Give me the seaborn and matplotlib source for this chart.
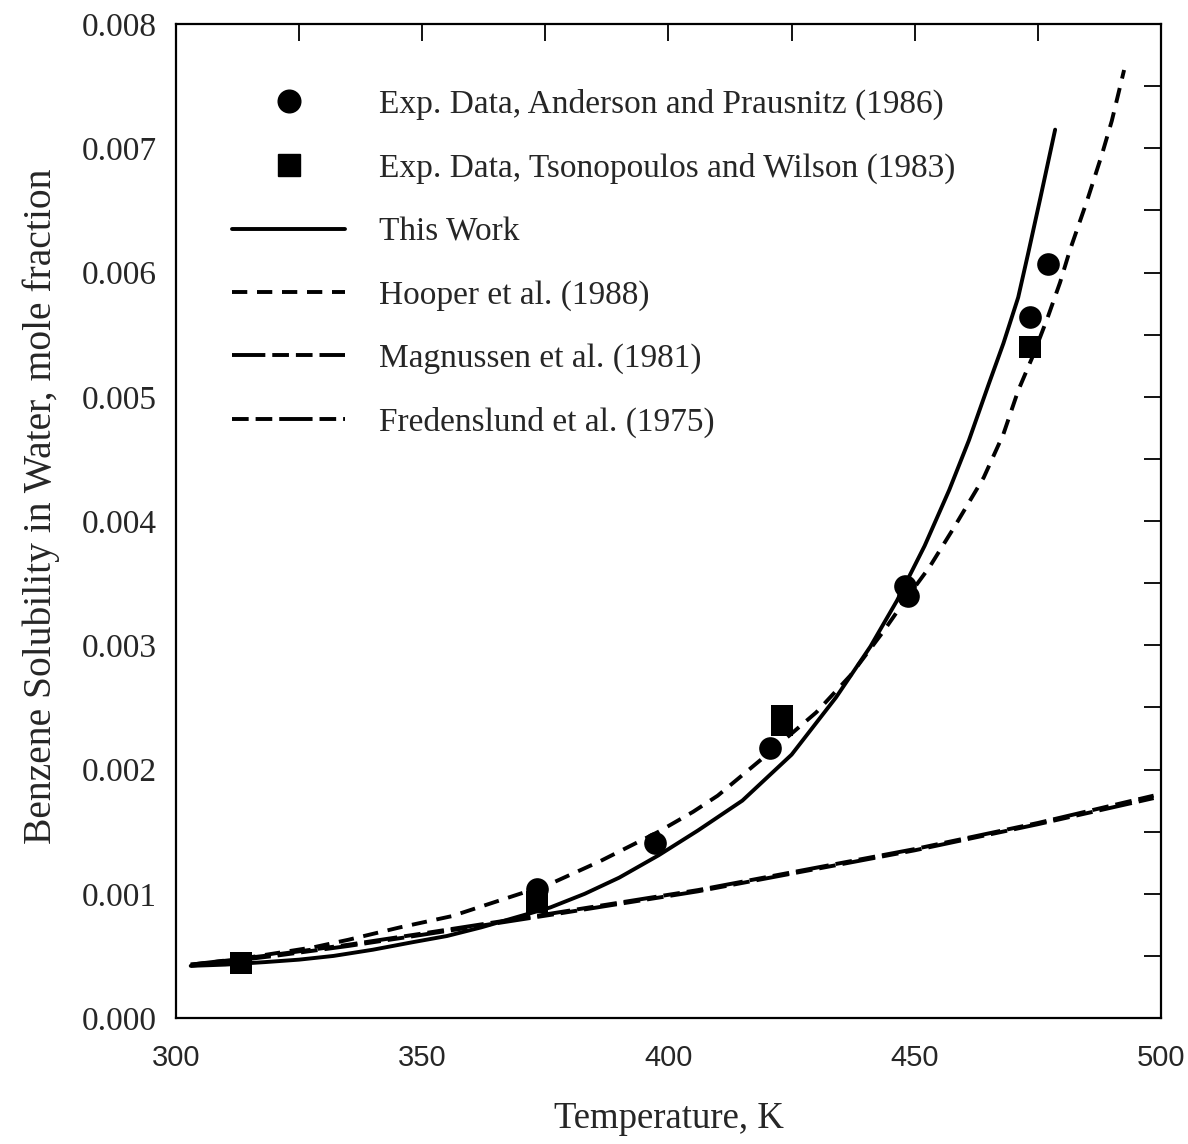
import numpy as np
import pandas as pd
import matplotlib
matplotlib.use("Agg")
import matplotlib.pyplot as plt
from matplotlib.lines import Line2D
from matplotlib.ticker import MultipleLocator, FormatStrFormatter
import seaborn as sns

# ---------------- data ----------------
anderson_T = [373.3, 397.3, 420.6, 448.0, 448.6, 473.4, 477.1]
anderson_x = [0.00104, 0.00141, 0.00217, 0.00348, 0.00340, 0.00564, 0.00607]

tsono_T = [313.2, 373.3, 423.0, 423.0, 473.4]
tsono_x = [0.00044, 0.00093, 0.00243, 0.00236, 0.00540]

this_T = [303, 310, 318, 325, 332, 340, 348, 355, 362, 369, 376, 383, 390,
          398, 406, 415, 425, 434, 441, 446.4, 452, 457, 461, 465, 468, 471,
          473, 475.5, 478.5]
this_x = [0.00042, 0.00043, 0.00045, 0.00047, 0.00050, 0.00055, 0.00061,
          0.00066, 0.00073, 0.00081, 0.00089, 0.00100, 0.00113, 0.00131,
          0.00151, 0.00175, 0.00212, 0.00258, 0.00299, 0.00336, 0.00380,
          0.00425, 0.00465, 0.00510, 0.00543, 0.00580, 0.00615, 0.00660, 0.00715]

hooper_T = [303, 312, 320, 328, 335, 345.5, 356, 366, 376, 386, 398, 405, 410,
            420, 430, 437, 443.6, 448, 453, 458, 464, 468, 471, 474, 477,
            479.5, 481.5, 485, 488, 490, 492.5]
hooper_x = [0.00043, 0.00047, 0.00052, 0.00057, 0.00063, 0.00073, 0.00082,
            0.00095, 0.00108, 0.00126, 0.00150, 0.00166, 0.00179, 0.00212,
            0.00246, 0.00276, 0.00311, 0.00336, 0.00363, 0.00395, 0.00435,
            0.00470, 0.00505, 0.00533, 0.00564, 0.00592, 0.00618, 0.00658,
            0.00695, 0.00722, 0.00763]

magn_T = [303, 320, 335, 350, 376, 406, 450, 475, 498.5]
magn_x = [0.00043, 0.00051, 0.00059, 0.00068, 0.00084, 0.00103, 0.00136,
          0.00157, 0.00179]

fred_T = [303, 320, 335, 350, 376, 406, 450, 475, 498.5]
fred_x = [0.00042, 0.00050, 0.00058, 0.00067, 0.00083, 0.00102, 0.00135,
          0.00156, 0.00177]

labels = ["Exp. Data, Anderson and Prausnitz (1986)",
          "Exp. Data, Tsonopoulos and Wilson (1983)",
          "This Work",
          "Hooper et al. (1988)",
          "Magnussen et al. (1981)",
          "Fredenslund et al. (1975)"]

# ---------------- style ----------------
sns.set_style("white")
plt.rcParams["font.family"] = ["Liberation Serif", "DejaVu Serif"]
plt.rcParams["lines.scale_dashes"] = False

fig = plt.figure(figsize=(11.88, 11.44), dpi=100)
ax = fig.add_axes([0.1481, 0.1101, 0.9773 - 0.1481, 0.979 - 0.1101])

lw = 2.8
hooper_ls = (0, (11, 7))
magn_ls = (0, (24, 5, 12, 5, 12, 5))
fred_ls = (0, (12, 5, 12, 5, 24, 5))

sns.lineplot(x=fred_T, y=fred_x, ax=ax, color="black", lw=lw, linestyle=fred_ls)
sns.lineplot(x=magn_T, y=magn_x, ax=ax, color="black", lw=lw, linestyle=magn_ls)
sns.lineplot(x=hooper_T, y=hooper_x, ax=ax, color="black", lw=lw, linestyle=hooper_ls)
sns.lineplot(x=this_T, y=this_x, ax=ax, color="black", lw=lw, linestyle="-")

ms = 16.3
sns.scatterplot(x=anderson_T, y=anderson_x, ax=ax, color="black", marker="o",
                s=ms ** 2, edgecolor="black", linewidth=0, zorder=5)
sns.scatterplot(x=tsono_T, y=tsono_x, ax=ax, color="black", marker="s",
                s=ms ** 2, edgecolor="black", linewidth=0, zorder=5)

ax.set_xlim(300, 500)
ax.set_ylim(0, 0.008)
ax.xaxis.set_major_locator(MultipleLocator(50))
ax.xaxis.set_minor_locator(MultipleLocator(25))
ax.yaxis.set_major_locator(MultipleLocator(0.001))
ax.yaxis.set_minor_locator(MultipleLocator(0.0005))
ax.yaxis.set_major_formatter(FormatStrFormatter("%.3f"))

for s in ax.spines.values():
    s.set_linewidth(1.6)
    s.set_color("black")
    s.set_visible(True)

ax.tick_params(which="both", direction="in", top=True, right=True,
               length=12, width=1.3, color="black")
ax.tick_params(axis="y", which="major", labelsize=24, pad=14)
ax.tick_params(axis="x", which="major", labelsize=21, pad=19)
for t in ax.get_xticklabels():
    t.set_fontfamily(["Liberation Sans", "DejaVu Sans"])

ax.set_xlabel("Temperature, K", fontsize=26.5, labelpad=21)
ax.set_ylabel("Benzene Solubility in Water, mole fraction", fontsize=28.5)
ax.yaxis.set_label_coords(-0.1177, 0.515)

handles = [
    Line2D([], [], color="black", marker="o", ms=ms, ls="none"),
    Line2D([], [], color="black", marker="s", ms=ms, ls="none"),
    Line2D([], [], color="black", lw=lw, ls="-"),
    Line2D([], [], color="black", lw=lw, ls=hooper_ls),
    Line2D([], [], color="black", lw=lw, ls=magn_ls),
    Line2D([], [], color="black", lw=lw, ls=fred_ls),
]
if ax.get_legend() is not None:
    ax.get_legend().remove()
ax.legend(handles, labels, loc="upper left", bbox_to_anchor=(0.057, 0.9345),
          frameon=False, fontsize=24, handlelength=3.4, handletextpad=1.0,
          labelspacing=0.98, borderpad=0, borderaxespad=0)

fig.savefig("out.png", dpi=100)
